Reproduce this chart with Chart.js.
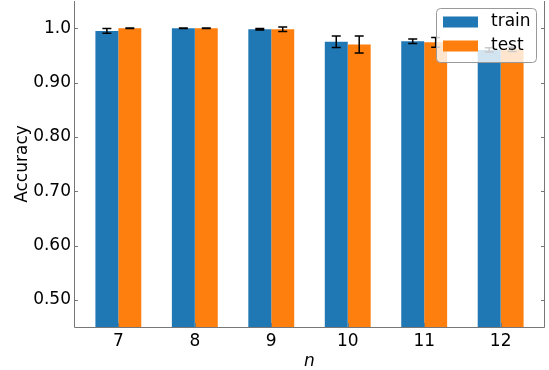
<!DOCTYPE html>
<html>
<head>
<meta charset="utf-8">
<script src="https://cdn.jsdelivr.net/npm/chart.js@4.4.1/dist/chart.umd.min.js"></script>
<style>
  html, body { margin: 0; padding: 0; background: #fff; }
  #wrap { width: 549px; height: 370px; }
</style>
</head>
<body>
<div id="wrap"><canvas id="accChart" width="549" height="370"></canvas></div>
<script>
// values
const categories = ["7", "8", "9", "10", "11", "12"];
const trainAcc = [0.995, 1.0, 0.998, 0.975, 0.976, 0.960];
const trainErr = [0.0045, 0.0005, 0.0015, 0.0107, 0.004, 0.004];
const testAcc = [1.0, 1.0, 0.998, 0.970, 0.974, 0.961];
const testErr = [0.0005, 0.0005, 0.004, 0.0156, 0.009, 0.004];
const yTicks = [0.5, 0.6, 0.7, 0.8, 0.9, 1.0];
const seriesNames = ["train", "test"];
const seriesColors = ["#1f77b4", "#ff7f0e"];
const errors = [trainErr, testErr];

Chart.defaults.font.family = "'DejaVu Sans', sans-serif";
Chart.defaults.font.size = 16;
Chart.defaults.color = "#000";

function points(vals) {
  return vals.map((v, i) => ({ x: i, y: v }));
}

// spines + inward ticks, like the matplotlib original
const framePlugin = {
  id: "frame",
  afterDraw(chart) {
    const ctx = chart.ctx;
    const a = chart.chartArea;
    const xs = chart.scales.x, ys = chart.scales.y;
    ctx.save();
    ctx.strokeStyle = "#777";
    ctx.lineWidth = 1;
    ctx.beginPath();
    ctx.moveTo(a.left + 0.5, a.top);
    ctx.lineTo(a.left + 0.5, a.bottom + 0.5);
    ctx.lineTo(a.right - 0.5, a.bottom + 0.5);
    ctx.lineTo(a.right - 0.5, a.top);
    yTicks.forEach((t) => {
      const y = Math.round(ys.getPixelForValue(t)) + 0.5;
      ctx.moveTo(a.left, y); ctx.lineTo(a.left + 4, y);
      ctx.moveTo(a.right, y); ctx.lineTo(a.right - 4, y);
    });
    categories.forEach((c, i) => {
      const x = Math.round(xs.getPixelForValue(i)) + 0.5;
      ctx.moveTo(x, a.bottom); ctx.lineTo(x, a.bottom - 4);
    });
    ctx.stroke();
    ctx.restore();
  }
};

// error bars + legend box drawn on top of the bars
const errorPlugin = {
  id: "errbars",
  afterDatasetsDraw(chart) {
    const ctx = chart.ctx;
    const ys = chart.scales.y;
    ctx.save();
    ctx.strokeStyle = "#000";
    ctx.lineWidth = 1.5;
    chart.data.datasets.forEach((ds, d) => {
      const meta = chart.getDatasetMeta(d);
      meta.data.forEach((bar, i) => {
        const v = ds.data[i].y, e = errors[d][i];
        const y1 = ys.getPixelForValue(v + e), y2 = ys.getPixelForValue(v - e);
        ctx.beginPath();
        ctx.moveTo(bar.x, y1); ctx.lineTo(bar.x, y2);
        ctx.moveTo(bar.x - 4.5, y1); ctx.lineTo(bar.x + 4.5, y1);
        ctx.moveTo(bar.x - 4.5, y2); ctx.lineTo(bar.x + 4.5, y2);
        ctx.stroke();
      });
    });

    // legend
    const lx = 436.5, ly = 8.5, lw = 100, lh = 54, r = 4;
    ctx.beginPath();
    ctx.roundRect(lx, ly, lw, lh, r);
    ctx.fillStyle = "rgba(255,255,255,0.8)";
    ctx.fill();
    ctx.strokeStyle = "#999";
    ctx.lineWidth = 1;
    ctx.stroke();
    ctx.font = "17px 'DejaVu Sans'";
    ctx.textBaseline = "middle";
    chart.data.datasets.forEach((ds, d) => {
      const cy = 22 + d * 24;
      ctx.fillStyle = ds.backgroundColor;
      ctx.fillRect(443, cy - 5.5, 35, 11);
      ctx.fillStyle = "#000";
      ctx.fillText(ds.label, 491, cy);
    });
    ctx.restore();
  }
};

new Chart("accChart", {
  type: "bar",
  data: {
    datasets: [
      { label: seriesNames[0], data: points(trainAcc), backgroundColor: seriesColors[0] },
      { label: seriesNames[1], data: points(testAcc), backgroundColor: seriesColors[1] }
    ]
  },
  options: {
    responsive: false,
    animation: false,
    devicePixelRatio: 1,
    categoryPercentage: 0.6,
    barPercentage: 1.0,
    layout: { padding: { top: 1, right: 4, left: 0, bottom: 0 } },
    plugins: { legend: { display: false }, tooltip: { enabled: false } },
    scales: {
      x: {
        type: "linear",
        offset: false,
        min: -0.58,
        max: 5.58,
        grid: { display: false, drawTicks: false, offset: false },
        border: { display: false },
        afterBuildTicks: (s) => { s.ticks = categories.map((c, i) => ({ value: i })); },
        ticks: { padding: 4, font: { size: 17 }, callback: (v) => categories[v] },
        // bottom titles are offset by padding.bottom
        title: { display: true, text: "n", font: { style: "italic", size: 17 }, padding: { top: 0, bottom: -2 } },
        afterFit: (s) => { s.height = 43; s.paddingLeft = 0; s.paddingRight = 0; }
      },
      y: {
        min: 0.45,
        max: 1.05,
        grid: { display: false, drawTicks: false },
        border: { display: false },
        afterBuildTicks: (s) => { s.ticks = yTicks.map((t) => ({ value: t })); },
        ticks: { padding: 3, font: { size: 17 }, callback: (v) => (Math.abs(v - 1) < 1e-9 ? "1.0" : v.toFixed(2)) },
        title: { display: true, text: "Accuracy", font: { size: 17 }, padding: { top: 12 } },
        afterFit: (s) => { s.width = 74; s.paddingTop = 0; s.paddingBottom = 0; }
      }
    }
  },
  plugins: [framePlugin, errorPlugin]
});
</script>
</body>
</html>
